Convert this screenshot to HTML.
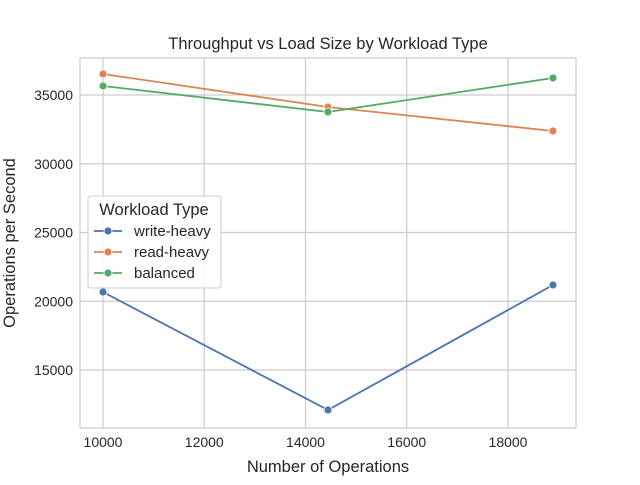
<!DOCTYPE html>
<html><head><meta charset="utf-8"><style>
body{margin:0;background:#fff;}
svg text{font-family:"Liberation Sans","DejaVu Sans",sans-serif;fill:#262626;}
</style></head><body>
<svg id="chart" width="640" height="480">
<rect x="80" y="58" width="496" height="370" fill="#fff" stroke="#ccc" stroke-width="1.2"/>
<g id="grid"></g><g id="series"></g>
<text x="328" y="49" text-anchor="middle" font-size="16.5">Throughput vs Load Size by Workload Type</text>
<text x="328" y="472" text-anchor="middle" font-size="16.5">Number of Operations</text>
<text transform="translate(15,243) rotate(-90)" text-anchor="middle" font-size="16.5">Operations per Second</text>
<g>
<rect x="88" y="196" width="133" height="92" rx="3" fill="#fff" fill-opacity="0.85" stroke="#ccc"/>
<text x="154" y="215" text-anchor="middle" font-size="16.5">Workload Type</text>
<g id="legend-items"></g>
</g>
</svg>
<script>
const categories=[10000,14444,18889];
const seriesNames=["write-heavy","read-heavy","balanced"];
const writeHeavy=[20673,12090,21182];
const readHeavy=[36527,34127,32382];
const balanced=[35655,33764,36236];
const xTicks=[10000,12000,14000,16000,18000];
const yTicks=[15000,20000,25000,30000,35000];
const colors=["#4c72b0","#dd8452","#55a868"];
const ns="http://www.w3.org/2000/svg";
const xs=v=>103+(v-10000)*101.25/2000;
const ys=v=>95+(35000-v)*68.75/5000;
function mk(t,a,p){const e=document.createElementNS(ns,t);for(const k in a)e.setAttribute(k,a[k]);p.appendChild(e);return e;}
const g=document.getElementById('grid');
xTicks.forEach(t=>{const x=xs(t);
const l=mk('line',{x1:x,x2:x,y1:58,y2:428,stroke:'#ccc','stroke-width':1.2},g);

const tx=mk('text',{x:x,y:447,'text-anchor':'middle','font-size':14},g);tx.textContent=t;
});
yTicks.forEach(t=>{const y=ys(t);
const l=mk('line',{x1:80,x2:576,y1:y,y2:y,stroke:'#ccc','stroke-width':1.2},g);

const tx=mk('text',{x:73,y:y+5,'text-anchor':'end','font-size':14},g);tx.textContent=t;
});
const s=document.getElementById('series');
[writeHeavy,readHeavy,balanced].forEach((d,i)=>{
const pts=d.map((v,j)=>xs(categories[j])+','+ys(v)).join(' ');
const pl=mk('polyline',{points:pts,fill:'none',stroke:colors[i],'stroke-width':1.8},s);

d.forEach((v,j)=>{const c=mk('circle',{cx:xs(categories[j]),cy:ys(v),r:4,fill:colors[i],stroke:'#fff','stroke-width':0.8},s);
});});
const lg=document.getElementById('legend-items');
seriesNames.forEach((n,i)=>{const y=231+i*21;
const l=mk('line',{x1:94,x2:122,y1:y,y2:y,stroke:colors[i],'stroke-width':1.8},lg);

const c=mk('circle',{cx:108,cy:y,r:4,fill:colors[i],stroke:'#fff','stroke-width':0.8},lg);

const t=mk('text',{x:134,y:y+5,'font-size':15},lg);t.textContent=n;
});
</script>
</body></html>
